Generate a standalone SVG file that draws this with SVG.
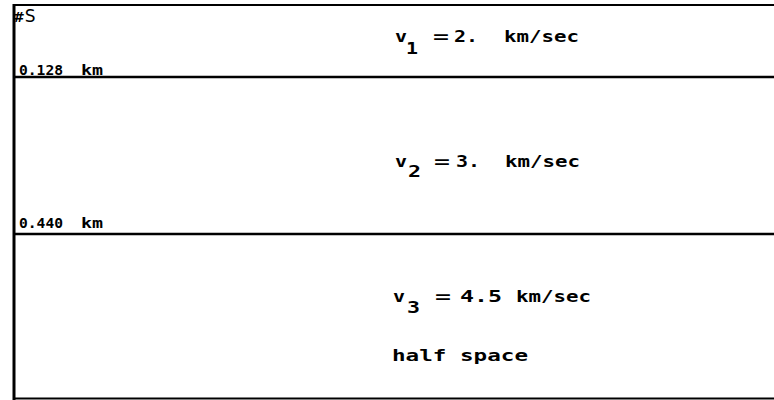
<svg xmlns="http://www.w3.org/2000/svg" width="774" height="400" viewBox="0 0 774 400">
<style>
.ln{stroke:#000;fill:none}
.lbl{font-family:"DejaVu Sans Mono","Liberation Mono",monospace;font-weight:bold;font-size:16.5px;fill:#000}
.sm{font-family:"DejaVu Sans Mono","Liberation Mono",monospace;font-weight:bold;font-size:13.5px;fill:#000}
.src{font-family:"DejaVu Sans","Liberation Sans",sans-serif;font-size:17px;fill:#000}
</style>
<rect width="774" height="400" fill="#fff"/>
<g id="connectors">
<line class="ln" x1="13" y1="5" x2="774" y2="5" stroke-width="2"/>
<line class="ln" x1="14" y1="4" x2="14" y2="400" stroke-width="3"/>
<line class="ln" x1="13" y1="77" x2="774" y2="77" stroke-width="2.5"/>
<line class="ln" x1="13" y1="234" x2="774" y2="234" stroke-width="2.5"/>
<line class="ln" x1="13" y1="398.5" x2="774" y2="398.5" stroke-width="2"/>
</g>
<g id="source">
<text class="src" x="13" y="22"><tspan font-weight="bold" font-size="14">#</tspan>S</text>
</g>
<g id="layer1">
<text class="sm" x="19" y="75" textLength="44" lengthAdjust="spacingAndGlyphs">0.128</text>
<text class="sm" x="81" y="75" textLength="22" lengthAdjust="spacingAndGlyphs">km</text>
<text class="lbl" x="395" y="42" textLength="12" lengthAdjust="spacingAndGlyphs">v</text>
<text class="lbl" x="406" y="54" textLength="12" lengthAdjust="spacingAndGlyphs">1</text>
<text class="lbl" x="433" y="42" textLength="16" lengthAdjust="spacingAndGlyphs">=</text>
<text class="lbl" x="454" y="42" textLength="24" lengthAdjust="spacingAndGlyphs">2.</text>
<text class="lbl" x="504" y="42" textLength="75" lengthAdjust="spacingAndGlyphs">km/sec</text>
</g>
<g id="layer2">
<text class="sm" x="19" y="228" textLength="44" lengthAdjust="spacingAndGlyphs">0.440</text>
<text class="sm" x="81" y="228" textLength="22" lengthAdjust="spacingAndGlyphs">km</text>
<text class="lbl" x="395" y="167" textLength="12" lengthAdjust="spacingAndGlyphs">v</text>
<text class="lbl" x="408" y="177" textLength="13" lengthAdjust="spacingAndGlyphs">2</text>
<text class="lbl" x="434" y="167" textLength="16" lengthAdjust="spacingAndGlyphs">=</text>
<text class="lbl" x="456" y="167" textLength="24" lengthAdjust="spacingAndGlyphs">3.</text>
<text class="lbl" x="505" y="167" textLength="75" lengthAdjust="spacingAndGlyphs">km/sec</text>
</g>
<g id="layer3">
<text class="lbl" x="393" y="302" textLength="12" lengthAdjust="spacingAndGlyphs">v</text>
<text class="lbl" x="407" y="313" textLength="13" lengthAdjust="spacingAndGlyphs">3</text>
<text class="lbl" x="435" y="302" textLength="16" lengthAdjust="spacingAndGlyphs">=</text>
<text class="lbl" x="460" y="302" textLength="42" lengthAdjust="spacingAndGlyphs">4.5</text>
<text class="lbl" x="516" y="302" textLength="75" lengthAdjust="spacingAndGlyphs">km/sec</text>
<text class="lbl" x="392" y="361" textLength="136" lengthAdjust="spacingAndGlyphs">half space</text>
</g>
</svg>
